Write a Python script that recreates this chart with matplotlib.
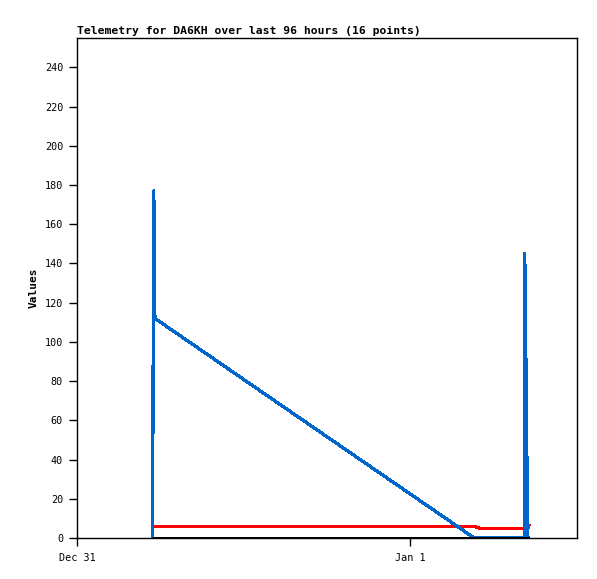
import matplotlib

matplotlib.use("Agg")
import matplotlib.dates as mdates
import matplotlib.pyplot as plt
import numpy as np
import pandas as pd

TITLE = "Telemetry for DA6KH over last 96 hours (16 points)"
START = pd.Timestamp("2024-12-31 00:00")

# hours after Dec 31 00:00
HOURS = [5.44, 5.48, 5.53, 5.57, 5.61, 28.60, 28.98, 32.20, 32.24, 32.35, 32.45, 32.58]
BLUE = [0, 88, 177, 145, 112, 0, 0, 0, 145, 72, 0, 0]
RED = [4, 6, 6, 6, 6, 6, 5, 5, 5, 5, 5, 7]
BLACK = [0, 0, 0, 0, 0, 0, 0, 0, 0, 0, 0, 0]

TICK_DATES = ["2024-12-31", "2025-01-01"]
TICK_LABELS = ["Dec 31", "Jan 1"]
Y_TICKS = list(range(0, 241, 20))

plt.rcParams["font.family"] = ["DejaVu Sans Mono"]

times = START + pd.to_timedelta(np.array(HOURS), unit="h")

fig = plt.figure(figsize=(5.97, 5.79), dpi=100)
ax = fig.add_axes([77 / 597, 41 / 579, 500 / 597, 500 / 579])

# gnuplot-like drawing order: red, then blue, black zero line on top
ax.plot(times, RED, color="#ff0000", lw=1.6, solid_capstyle="butt", antialiased=False, zorder=1)
ax.plot(times, BLUE, color="#0066cc", lw=1.6, solid_capstyle="butt", antialiased=False, zorder=2)
ax.plot(times, BLACK, color="black", lw=2, solid_capstyle="butt", antialiased=False, zorder=3)

ax.set_xlim(START, START + pd.Timedelta(hours=36))
ax.set_ylim(0, 255)

ax.set_xticks([mdates.date2num(pd.Timestamp(d)) for d in TICK_DATES])
ax.set_xticklabels(TICK_LABELS)
ax.set_yticks(Y_TICKS)
ax.tick_params(direction="out", length=6, width=1, labelsize=7.3, pad=4,
               top=False, right=False)
ax.tick_params(axis="x", pad=5)

for side in ["left", "bottom", "top", "right"]:
    ax.spines[side].set_linewidth(1)
    ax.spines[side].set_color("black")

ax.set_ylabel("Values", fontsize=8, fontweight="bold", labelpad=4)
ax.set_title(TITLE, fontsize=8.2, fontweight="bold", loc="left", pad=3)

fig.savefig("out.png", dpi=100)
